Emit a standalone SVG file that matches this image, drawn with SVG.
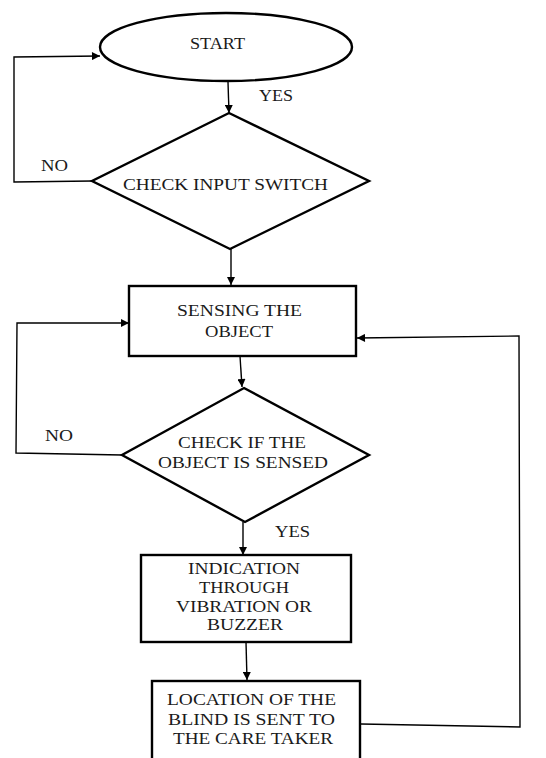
<svg xmlns="http://www.w3.org/2000/svg" width="546" height="758" viewBox="0 0 546 758">
<style>
.shape{fill:#fff;stroke:#000;stroke-width:2.4}
.conn{fill:none;stroke:#000;stroke-width:1.4}
text{font-family:"Liberation Serif","Times New Roman",serif;font-size:17px;fill:#1a1a1a}
</style>
<defs>
<marker id="arr" viewBox="0 0 10 10" refX="10" refY="5" markerWidth="9" markerHeight="8" markerUnits="userSpaceOnUse" orient="auto">
<path d="M0,0 L10,5 L0,10 z" fill="#000"/>
</marker>
</defs>
<rect width="546" height="758" fill="#fff"/>
<g id="connectors">
<line class="conn" x1="228" y1="82" x2="229" y2="113" marker-end="url(#arr)"/>
<polyline class="conn" points="92,181 14,182 14,57 100,56" marker-end="url(#arr)"/>
<line class="conn" x1="231" y1="249" x2="231" y2="285" marker-end="url(#arr)"/>
<line class="conn" x1="240" y1="356" x2="242" y2="387" marker-end="url(#arr)"/>
<polyline class="conn" points="122,455 16,453 17,323 129,323" marker-end="url(#arr)"/>
<line class="conn" x1="243" y1="522" x2="243" y2="555" marker-end="url(#arr)"/>
<line class="conn" x1="246" y1="642" x2="247" y2="680" marker-end="url(#arr)"/>
<polyline class="conn" points="361,724 520,727 519,336 357,338" marker-end="url(#arr)"/>
<text x="259" y="101" textLength="34" lengthAdjust="spacingAndGlyphs">YES</text>
<text x="41" y="171" textLength="27" lengthAdjust="spacingAndGlyphs">NO</text>
<text x="45" y="441" textLength="28" lengthAdjust="spacingAndGlyphs">NO</text>
<text x="275" y="537" textLength="35" lengthAdjust="spacingAndGlyphs">YES</text>
</g>
<g id="start">
<ellipse class="shape" cx="226" cy="47" rx="126" ry="34"/>
<text x="190" y="49" textLength="55" lengthAdjust="spacingAndGlyphs">START</text>
</g>
<g id="check-input">
<polygon class="shape" points="229,113 369,181 230,249 92,181"/>
<text x="123" y="190" textLength="205" lengthAdjust="spacingAndGlyphs">CHECK INPUT SWITCH</text>
</g>
<g id="sensing">
<rect class="shape" x="129" y="286" width="227" height="70"/>
<text x="177" y="316" textLength="125" lengthAdjust="spacingAndGlyphs">SENSING THE</text>
<text x="205" y="337" textLength="68" lengthAdjust="spacingAndGlyphs">OBJECT</text>
</g>
<g id="check-sensed">
<polygon class="shape" points="244,388 369,455 245,522 122,455"/>
<text x="178" y="448" textLength="128" lengthAdjust="spacingAndGlyphs">CHECK IF THE</text>
<text x="158" y="468" textLength="170" lengthAdjust="spacingAndGlyphs">OBJECT IS SENSED</text>
</g>
<g id="indication">
<rect class="shape" x="141" y="555" width="210" height="87"/>
<text x="188" y="574" textLength="112" lengthAdjust="spacingAndGlyphs">INDICATION</text>
<text x="199" y="593" textLength="90" lengthAdjust="spacingAndGlyphs">THROUGH</text>
<text x="176" y="612" textLength="136" lengthAdjust="spacingAndGlyphs">VIBRATION OR</text>
<text x="207" y="630" textLength="76" lengthAdjust="spacingAndGlyphs">BUZZER</text>
</g>
<g id="location">
<rect class="shape" x="152" y="681" width="208" height="100"/>
<text x="167" y="705" textLength="169" lengthAdjust="spacingAndGlyphs">LOCATION OF THE</text>
<text x="168" y="725" textLength="167" lengthAdjust="spacingAndGlyphs">BLIND IS SENT TO</text>
<text x="173" y="744" textLength="160" lengthAdjust="spacingAndGlyphs">THE CARE TAKER</text>
</g>
</svg>
